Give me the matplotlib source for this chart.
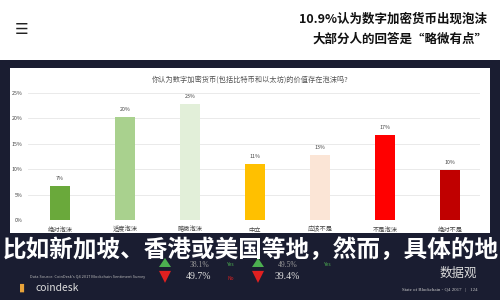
import matplotlib.pyplot as plt
from matplotlib.patches import Rectangle, Polygon

plt.rcParams['font.family'] = ['Noto Sans CJK SC', 'DejaVu Sans']

# 数据
categories = ['绝对泡沫', '适度泡沫', '略微泡沫', '中立', '应该不是', '不是泡沫', '绝对不是']
values = [6.6, 20.3, 22.8, 11.0, 12.8, 16.7, 9.8]
value_labels = ['7%', '20%', '23%', '11%', '13%', '17%', '10%']
bar_colors = ['#6aa93b', '#a9d18e', '#e2efd9', '#ffc000', '#fbe5d6', '#ff0000', '#c00000']
yticks = [0, 5, 10, 15, 20, 25]

headline = ['10.9%认为数字加密货币出现泡沫', '大部分人的回答是“略微有点”']
chart_title = '你认为数字加密货币(包括比特币和以太坊)的价值存在泡沫吗?'
overlay = '比如新加坡、香港或美国等地，然而，具体的地'

navy = '#1a1d31'

fig = plt.figure(figsize=(5, 3), dpi=100, facecolor=navy)

# 顶部白条和白色面板
fig.patches.append(Rectangle((0, 0.8), 1, 0.2, transform=fig.transFigure,
                             facecolor='white', edgecolor='none', zorder=0))
fig.patches.append(Rectangle((0.02, 0.223), 0.96, 0.55, transform=fig.transFigure,
                             facecolor='white', edgecolor='none', zorder=0))

fig.text(0.03, 0.9, '☰', fontsize=11, color='#222222', ha='left', va='center',
         family=['DejaVu Sans'])
fig.text(0.975, 0.935, headline[0], fontsize=9, fontweight='bold', color='#111111',
         ha='right', va='center')
fig.text(0.975, 0.868, headline[1], fontsize=9, fontweight='bold', color='#111111',
         ha='right', va='center')

# 柱状图
ax = fig.add_axes([0.056, 0.2667, 0.904, 0.4233])
ax.set_zorder(2)
ax.set_facecolor('none')
x = range(len(categories))
ax.bar(x, values, width=0.31, color=bar_colors, zorder=3)
for i, v in enumerate(values):
    ax.text(i, v + 1.0, value_labels[i], ha='center', va='bottom', fontsize=3.8, color='#444444')
ax.set_xlim(-0.49, 6.46)
ax.set_ylim(0, 25)
ax.set_yticks(yticks)
ax.set_yticklabels([f'{t}%' for t in yticks], fontsize=3.8, color='#444444')
ax.set_xticks(list(x))
ax.set_xticklabels(categories, fontsize=4.5, color='#444444')
ax.tick_params(length=0, pad=4)
ax.grid(axis='y', color='#e6e6e6', linewidth=0.6, zorder=0)
for s in ax.spines.values():
    s.set_visible(False)
fig.text(0.5, 0.735, chart_title, fontsize=5.2, color='#555555', ha='center', va='center')

# 叠加的大字
fig.text(0.005, 0.165, overlay, fontsize=17, fontweight='black', color='white',
         ha='left', va='center', zorder=5)

# 底部信息
fig.text(0.06, 0.077, "Data Source: CoinDesk's Q4 2017 Blockchain Sentiment Survey",
         fontsize=2.8, color='#bbbbbb', ha='left', va='center')
fig.text(0.045, 0.04, '▮', fontsize=8, color='#e8a33a', ha='center', va='center',
         family=['DejaVu Sans'])
fig.text(0.07, 0.04, 'coindesk', fontsize=7.5, color='#dddddd', ha='left', va='center')

for xc in [0.33, 0.516]:
    fig.patches.append(Polygon([[xc - 0.012, 0.11], [xc + 0.012, 0.11], [xc, 0.14]],
                               closed=True, transform=fig.transFigure,
                               facecolor='#4caf50', edgecolor='none'))
    fig.patches.append(Polygon([[xc - 0.012, 0.097], [xc + 0.012, 0.097], [xc, 0.057]],
                               closed=True, transform=fig.transFigure,
                               facecolor='#e02020', edgecolor='none'))
fig.text(0.38, 0.118, '38.1%', fontsize=5.5, color='#999999', family=['Liberation Serif'],
         ha='left', va='center')
fig.text(0.372, 0.078, '49.7%', fontsize=7, color='#dddddd', family=['Liberation Serif'],
         ha='left', va='center')
fig.text(0.555, 0.118, '49.5%', fontsize=5.5, color='#999999', family=['Liberation Serif'],
         ha='left', va='center')
fig.text(0.55, 0.078, '39.4%', fontsize=7, color='#dddddd', family=['Liberation Serif'],
         ha='left', va='center')
fig.text(0.462, 0.12, 'Yes', fontsize=3.5, color='#4caf50', ha='center', va='center')
fig.text(0.462, 0.072, 'No', fontsize=3.5, color='#e02020', ha='center', va='center')
fig.text(0.655, 0.12, 'Yes', fontsize=3.5, color='#4caf50', ha='center', va='center')

fig.text(0.955, 0.088, '数据观', fontsize=9, color='#dddddd', ha='right', va='center')
fig.text(0.955, 0.035, 'State of Blockchain - Q4 2017   |   124', fontsize=3.5,
         color='#cccccc', ha='right', va='center', family=['Liberation Serif'])

fig.savefig('out.png', dpi=100, facecolor=navy)
